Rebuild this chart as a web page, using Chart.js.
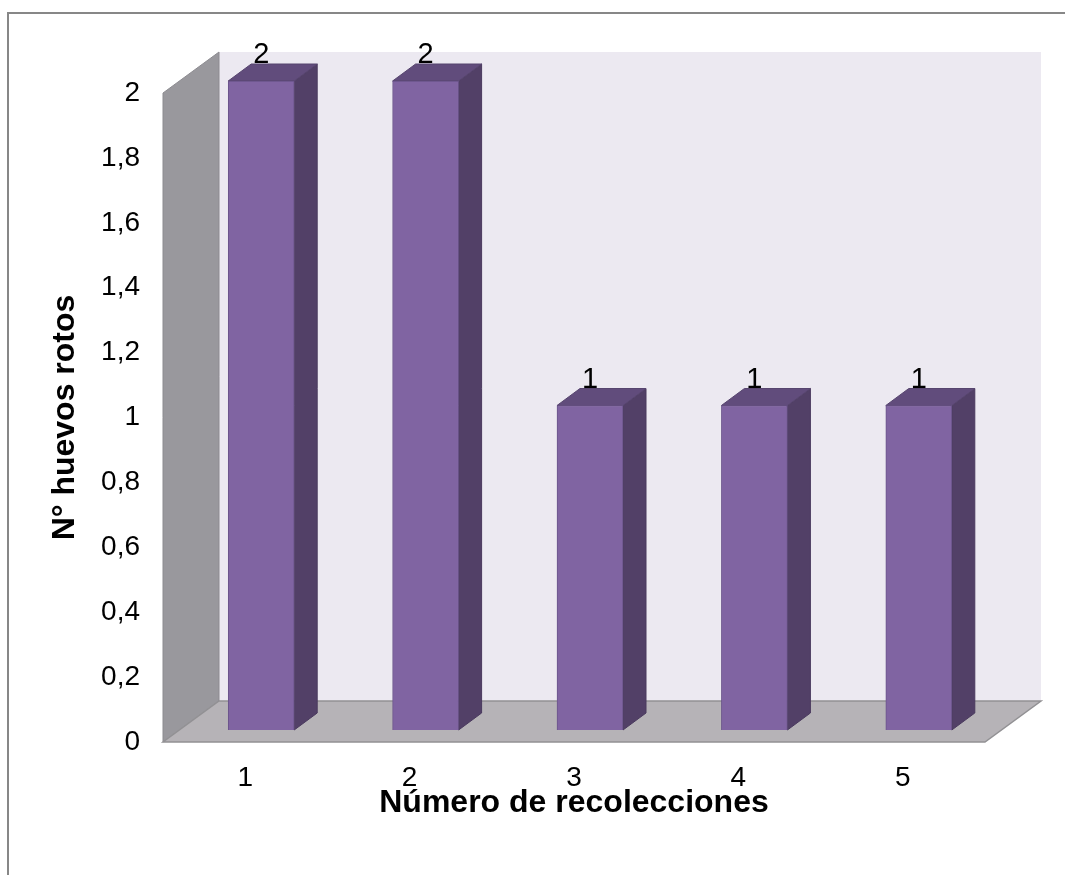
<!DOCTYPE html>
<html>
<head>
<meta charset="utf-8">
<script src="https://cdn.jsdelivr.net/npm/chart.js@4.4.1/dist/chart.umd.min.js"></script>
<style>
  html, body { margin: 0; padding: 0; background: #ffffff; }
  #wrap { position: relative; width: 1065px; height: 875px; overflow: hidden; }
  #frame { position: absolute; left: 7px; top: 12px; width: 1200px; height: 1000px;
           border-left: 2px solid #878787; border-top: 2px solid #878787; pointer-events: none; }
  canvas { position: absolute; left: 0; top: 0; }
</style>
</head>
<body>
<div id="wrap">
  <canvas id="chart" width="1065" height="875"></canvas>
  <div id="frame"></div>
</div>
<script>
// Broken eggs per collection round
const categories = ['1', '2', '3', '4', '5'];
const brokenEggs = [2, 2, 1, 1, 1];
const yTickValues = [0, 0.2, 0.4, 0.6, 0.8, 1, 1.2, 1.4, 1.6, 1.8, 2];
const yTickLabels = ['0', '0,2', '0,4', '0,6', '0,8', '1', '1,2', '1,4', '1,6', '1,8', '2'];
const yAxisTitle = 'N° huevos rotos';
const xAxisTitle = 'Número de recolecciones';

// Oblique projection used for the pseudo-3D look
const WALL = { dx: 56, dy: 41 };       // depth of the walls / floor
const BAR_SHIFT = { dx: 16, dy: 12 };  // bars sit a little behind the front edge
const BAR_DEPTH = { dx: 23, dy: 17 };  // depth of each bar

const FONT = '"Liberation Sans", Arial, sans-serif';

function poly(ctx, pts, fill, stroke, lw) {
  ctx.beginPath();
  ctx.moveTo(pts[0][0], pts[0][1]);
  for (let i = 1; i < pts.length; i++) ctx.lineTo(pts[i][0], pts[i][1]);
  ctx.closePath();
  if (fill) { ctx.fillStyle = fill; ctx.fill(); }
  if (stroke) { ctx.strokeStyle = stroke; ctx.lineWidth = lw || 1; ctx.stroke(); }
}

const box3d = {
  id: 'box3d',
  beforeDatasetsDraw(chart) {
    const { ctx, chartArea: a } = chart;
    const dx = WALL.dx, dy = WALL.dy;
    ctx.save();
    // back wall
    poly(ctx, [[a.left + dx, a.top - dy], [a.right + dx, a.top - dy],
               [a.right + dx, a.bottom - dy], [a.left + dx, a.bottom - dy]], '#ECE9F1');
    // side wall
    poly(ctx, [[a.left, a.top], [a.left + dx, a.top - dy],
               [a.left + dx, a.bottom - dy], [a.left, a.bottom]], '#99989D', '#8C8B90', 1);
    // floor
    poly(ctx, [[a.left, a.bottom], [a.left + dx, a.bottom - dy],
               [a.right + dx, a.bottom - dy], [a.right, a.bottom]], '#B6B3B7', '#929194', 1.5);
    ctx.restore();

    // bars: shift into depth, then draw the top and side faces behind the fronts
    ctx.save();
    ctx.translate(BAR_SHIFT.dx, -BAR_SHIFT.dy);
    const meta = chart.getDatasetMeta(0);
    meta.data.forEach(bar => {
      const p = bar.getProps(['x', 'y', 'base', 'width'], true);
      const l = p.x - p.width / 2, r = p.x + p.width / 2;
      const bx = BAR_DEPTH.dx, by = BAR_DEPTH.dy;
      poly(ctx, [[r, p.y], [r + bx, p.y - by], [r + bx, p.base - by], [r, p.base]],
           '#524067', '#4A3A5E', 1);
      poly(ctx, [[l, p.y], [l + bx, p.y - by], [r + bx, p.y - by], [r, p.y]],
           '#614C7C', '#57456F', 1);
    });
  },
  afterDatasetsDraw(chart) {
    const { ctx } = chart;
    ctx.restore();
    // value labels above each bar
    const meta = chart.getDatasetMeta(0);
    ctx.save();
    ctx.font = '29px ' + FONT;
    ctx.fillStyle = '#000000';
    ctx.textAlign = 'center';
    ctx.textBaseline = 'alphabetic';
    meta.data.forEach((bar, i) => {
      const p = bar.getProps(['x', 'y'], true);
      ctx.fillText(String(brokenEggs[i]), p.x + BAR_SHIFT.dx,
                   p.y - BAR_SHIFT.dy - BAR_DEPTH.dy - 1);
    });
    ctx.restore();
  }
};

new Chart(document.getElementById('chart'), {
  type: 'bar',
  data: {
    labels: categories,
    datasets: [{
      data: brokenEggs,
      backgroundColor: '#8064A2',
      borderColor: '#6A548A',
      borderWidth: 1,
      barThickness: 66,
      clip: false
    }]
  },
  options: {
    responsive: false,
    animation: false,
    devicePixelRatio: 1,
    layout: { padding: { left: 0, top: 93, right: 80, bottom: 0 } },
    plugins: { legend: { display: false }, tooltip: { enabled: false } },
    scales: {
      x: {
        grid: { display: false, drawTicks: false },
        border: { display: false },
        ticks: { color: '#000000', font: { family: FONT, size: 28 }, padding: 19 },
        title: {
          display: true, text: xAxisTitle, color: '#000000',
          font: { family: FONT, size: 32, weight: 'bold' },
          padding: { top: 0, bottom: 53 }
        },
        afterFit(scale) { scale.height = 133; }
      },
      y: {
        min: 0, max: 2,
        grid: { display: false, drawTicks: false },
        border: { display: false },
        afterBuildTicks(scale) { scale.ticks = yTickValues.map(v => ({ value: v })); },
        ticks: {
          color: '#000000', font: { family: FONT, size: 28 }, padding: 23,
          callback: (v, i) => yTickLabels[i]
        },
        title: {
          display: true, text: yAxisTitle, color: '#000000',
          font: { family: FONT, size: 32, weight: 'bold' },
          padding: { top: 46, bottom: 0 }
        },
        afterFit(scale) { scale.width = 163; }
      }
    }
  },
  plugins: [box3d]
});
</script>
</body>
</html>
